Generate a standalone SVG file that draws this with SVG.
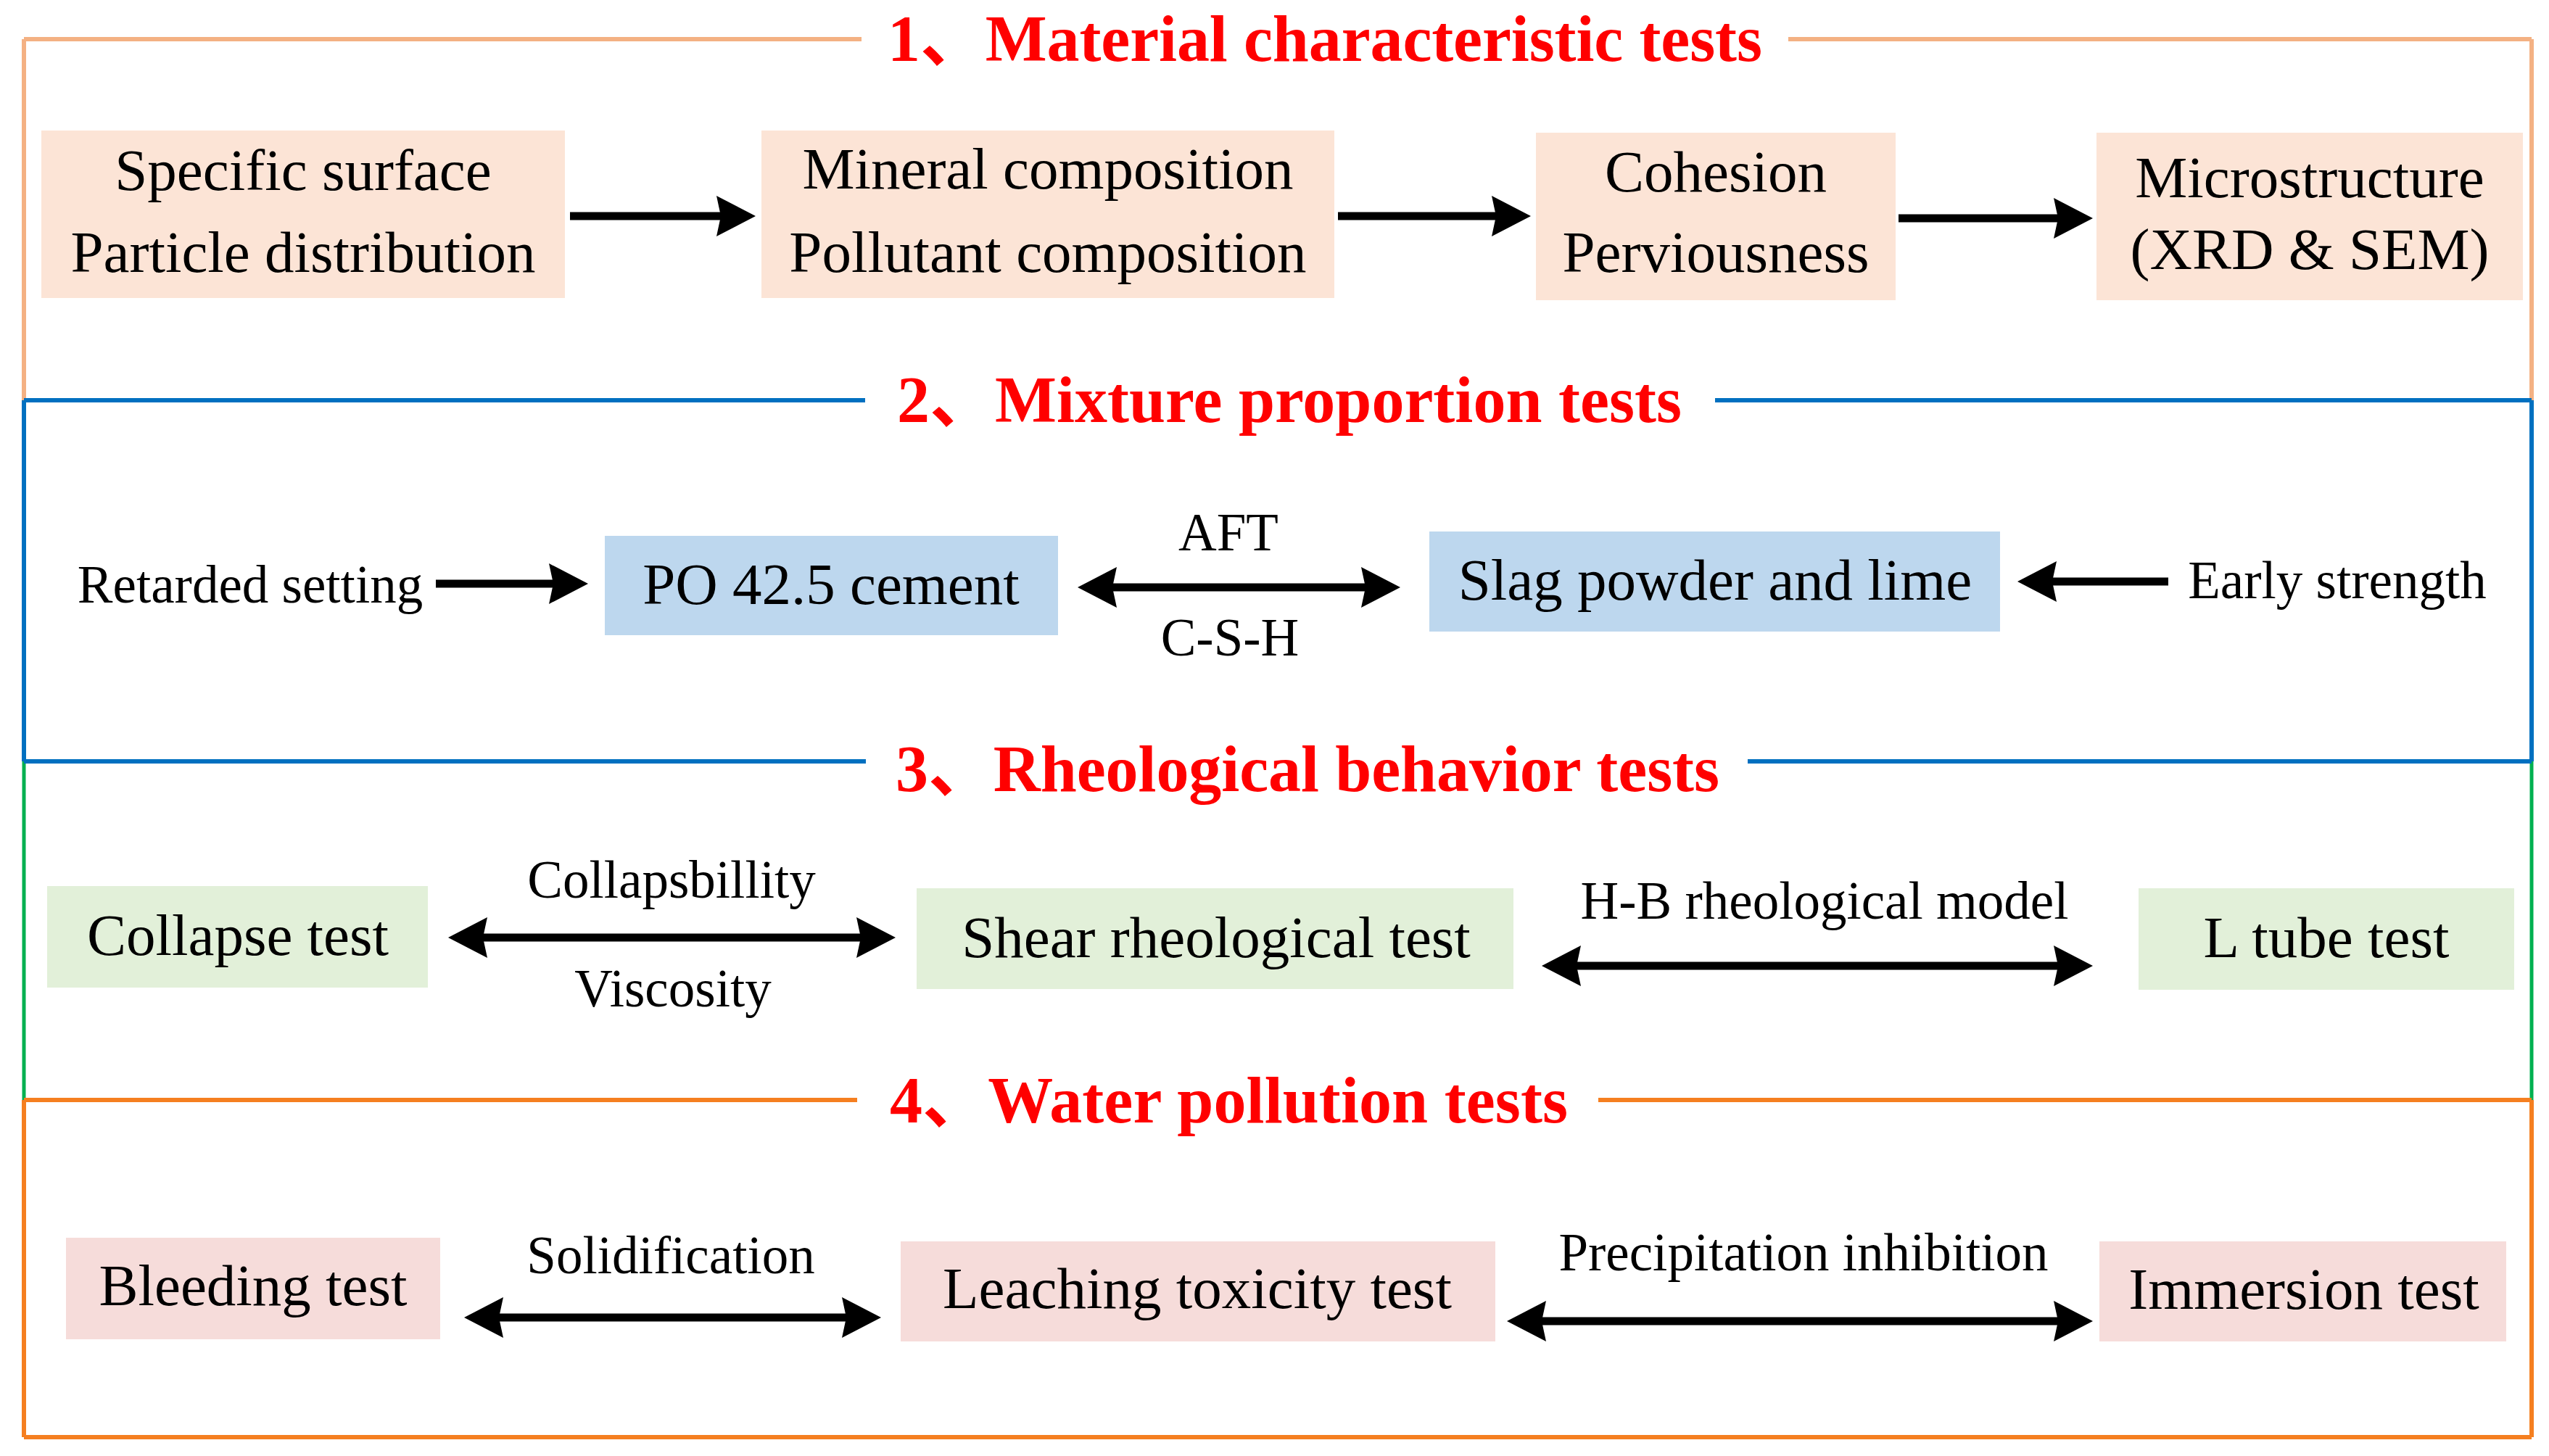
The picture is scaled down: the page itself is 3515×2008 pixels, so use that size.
<svg xmlns="http://www.w3.org/2000/svg" width="3515" height="2008" viewBox="0 0 3515 2008">
<style>
.bg{fill:#ffffff}
.t{font-family:"Liberation Serif","Times New Roman","Noto Sans CJK SC",serif;fill:#000}
.n{font-size:81px;text-anchor:middle}
.l{font-size:73px;text-anchor:middle}
.h{font-family:"Liberation Serif","Times New Roman","Noto Sans CJK SC",serif;font-size:90px;font-weight:bold;fill:#FF0000}
.s1{stroke:#F4B183;stroke-width:6;fill:none}
.s2{stroke:#0070C0;stroke-width:6;fill:none}
.s3{stroke:#00B050;stroke-width:5;fill:none}
.s4{stroke:#F57F20;stroke-width:6;fill:none}
.f1{fill:#FCE4D6}
.f2{fill:#BDD7EE}
.f3{fill:#E2F0D9}
.f4{fill:#F6DCDA}
.c{stroke:#000;stroke-width:11;fill:none}
</style>
<defs>
<marker id="ah" viewBox="0 0 54 56" refX="6" refY="28" markerWidth="54" markerHeight="56" markerUnits="userSpaceOnUse" orient="auto-start-reverse">
<path d="M0,0 L54,28 L0,56 L6,28 Z" fill="#000"/>
</marker>
</defs>
<rect class="bg" x="0" y="0" width="3515" height="2008"/>

<g id="frames">
<path class="s1" d="M33,54 H1188 M2466,54 H3491 M33,54 V552 M3491,54 V552"/>
<path class="s2" d="M33,552 H1193 M2365,552 H3491 M33,552 V1050 M3491,552 V1050"/>
<path class="s3" d="M33,1050 V1517 M3491,1050 V1517"/>
<path class="s2" d="M33,1050 H1194 M2410,1050 H3491"/>
<path class="s4" d="M33,1517 H1182 M2204,1517 H3491 M33,1517 V1982 M3491,1517 V1982 M33,1982 H3491"/>
</g>

<g id="titles">
<text class="h" x="1224" y="84" textLength="1206">1、Material characteristic tests</text>
<text class="h" x="1237" y="582" textLength="1082">2、Mixture proportion tests</text>
<text class="h" x="1235" y="1091" textLength="1136">3、Rheological behavior tests</text>
<text class="h" x="1227" y="1548" textLength="935">4、Water pollution tests</text>
</g>

<g id="node-specific-surface">
<rect class="f1" x="57" y="180" width="722" height="231"/>
<text class="t n" x="418" y="262">Specific surface</text>
<text class="t n" x="418" y="375">Particle distribution</text>
</g>
<g id="node-mineral-composition">
<rect class="f1" x="1050" y="180" width="790" height="231"/>
<text class="t n" x="1445" y="260">Mineral composition</text>
<text class="t n" x="1445" y="375">Pollutant composition</text>
</g>
<g id="node-cohesion">
<rect class="f1" x="2118" y="183" width="496" height="231"/>
<text class="t n" x="2366" y="264">Cohesion</text>
<text class="t n" x="2366" y="375">Perviousness</text>
</g>
<g id="node-microstructure">
<rect class="f1" x="2891" y="183" width="588" height="231"/>
<text class="t n" x="3185" y="272">Microstructure</text>
<text class="t n" x="3185" y="371">(XRD &amp; SEM)</text>
</g>

<g id="node-retarded-setting">
<text class="t l" x="345" y="831">Retarded setting</text>
</g>
<g id="node-po-cement">
<rect class="f2" x="834" y="739" width="625" height="137"/>
<text class="t n" x="1146" y="833">PO 42.5 cement</text>
</g>
<g id="node-slag">
<rect class="f2" x="1971" y="733" width="787" height="138"/>
<text class="t n" x="2365" y="827">Slag powder and lime</text>
</g>
<g id="node-early-strength">
<text class="t l" x="3223" y="825">Early strength</text>
</g>

<g id="node-collapse">
<rect class="f3" x="65" y="1222" width="525" height="140"/>
<text class="t n" x="328" y="1317">Collapse test</text>
</g>
<g id="node-shear">
<rect class="f3" x="1264" y="1225" width="823" height="139"/>
<text class="t n" x="1677" y="1320">Shear rheological test</text>
</g>
<g id="node-ltube">
<rect class="f3" x="2949" y="1225" width="518" height="140"/>
<text class="t n" x="3208" y="1320">L tube test</text>
</g>

<g id="node-bleeding">
<rect class="f4" x="91" y="1707" width="516" height="140"/>
<text class="t n" x="349" y="1800">Bleeding test</text>
</g>
<g id="node-leaching">
<rect class="f4" x="1242" y="1712" width="820" height="138"/>
<text class="t n" x="1651" y="1804">Leaching toxicity test</text>
</g>
<g id="node-immersion">
<rect class="f4" x="2895" y="1712" width="561" height="138"/>
<text class="t n" x="3177" y="1805">Immersion test</text>
</g>

<g id="connectors">
<line class="c" x1="786" y1="298" x2="994" y2="298" marker-end="url(#ah)"/>
<line class="c" x1="1845" y1="298" x2="2063" y2="298" marker-end="url(#ah)"/>
<line class="c" x1="2618" y1="301" x2="2838" y2="301" marker-end="url(#ah)"/>
<line class="c" x1="601" y1="805" x2="763" y2="805" marker-end="url(#ah)"/>
<line class="c" x1="2990" y1="802" x2="2830" y2="802" marker-end="url(#ah)"/>
<line class="c" x1="1534" y1="810" x2="1883" y2="810" marker-start="url(#ah)" marker-end="url(#ah)"/>
<line class="c" x1="666" y1="1293" x2="1187" y2="1293" marker-start="url(#ah)" marker-end="url(#ah)"/>
<line class="c" x1="2174" y1="1332" x2="2838" y2="1332" marker-start="url(#ah)" marker-end="url(#ah)"/>
<line class="c" x1="688" y1="1817" x2="1167" y2="1817" marker-start="url(#ah)" marker-end="url(#ah)"/>
<line class="c" x1="2126" y1="1822" x2="2838" y2="1822" marker-start="url(#ah)" marker-end="url(#ah)"/>
<text class="t l" x="1694" y="759">AFT</text>
<text class="t l" x="1696" y="904">C-S-H</text>
<text class="t l" x="926" y="1238">Collapsbillity</text>
<text class="t l" x="928" y="1388">Viscosity</text>
<text class="t l" x="2516" y="1267">H-B rheological model</text>
<text class="t l" x="925" y="1756">Solidification</text>
<text class="t l" x="2487" y="1752">Precipitation inhibition</text>
</g>
</svg>
